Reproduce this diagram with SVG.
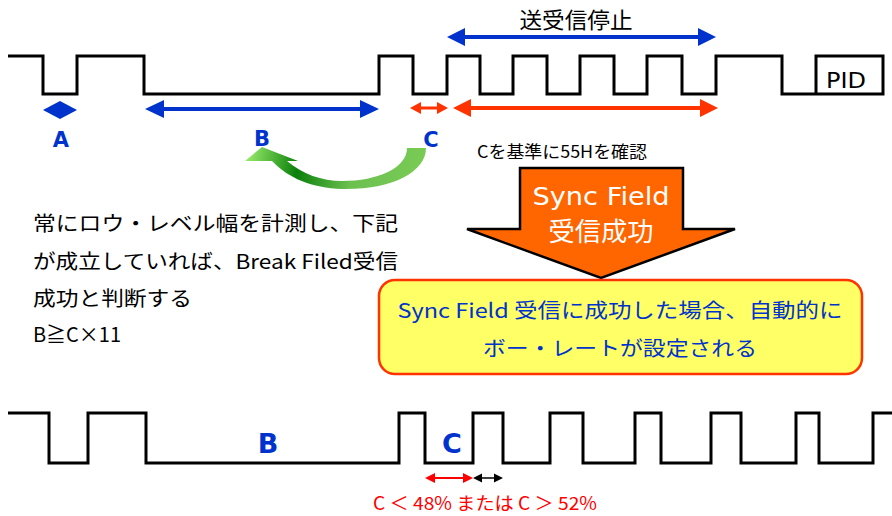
<svg xmlns="http://www.w3.org/2000/svg" width="892" height="516" viewBox="0 0 892 516">
<style>
.wave{fill:none;stroke:#000;stroke-width:3;stroke-linejoin:miter}
.jp{font-family:"Noto Sans CJK JP","Noto Sans",sans-serif;fill:#000}
.lbl{font-family:"DejaVu Sans",Verdana,sans-serif;font-weight:bold;fill:#0033CC}
.blue{fill:#0033CC}
.red{fill:#FF3300}
</style>
<defs>
<linearGradient id="gr" gradientUnits="userSpaceOnUse" x1="245" y1="150" x2="425" y2="185">
<stop offset="0" stop-color="#A0F070"/>
<stop offset="0.3" stop-color="#0A800A"/>
<stop offset="0.6" stop-color="#6CC050"/>
<stop offset="1" stop-color="#7ACC55"/>
</linearGradient>
</defs>
<rect width="892" height="516" fill="#fff"/>

<g id="top-wave">
<path class="wave" d="M8 56H43V94H77V56H144V94H379V56H413V94H447V56H480V94H513V56H547V94H580V56H614V94H647V56H682V94H716V56H782V94H883V56H816V94"/>
<text x="846" y="88" text-anchor="middle" font-family="DejaVu Sans,Verdana,sans-serif" font-size="21" fill="#000" textLength="40" lengthAdjust="spacingAndGlyphs">PID</text>
</g>

<g id="top-arrows">
<polygon class="blue" points="43,110 60,101 77,110 60,119"/>
<path class="blue" d="M145,109 L164,100 L164,107 L360,107 L360,100 L379,109 L360,118 L360,111 L164,111 L164,118 Z"/>
<path class="red" d="M410,108 L421,102 L421,106.5 L437,106.5 L437,102 L448,108 L437,114 L437,109.5 L421,109.5 L421,114 Z"/>
<path class="red" d="M453,108 L471,99 L471,106 L700,106 L700,99 L718,108 L700,117 L700,110 L471,110 L471,117 Z"/>
<path class="blue" d="M447,37 L465,28 L465,35 L698,35 L698,28 L716,37 L698,46 L698,39 L465,39 L465,46 Z"/>
<text class="jp" x="576" y="28" text-anchor="middle" font-size="22" textLength="113" lengthAdjust="spacingAndGlyphs">送受信停止</text>
<text class="lbl" x="61" y="147" text-anchor="middle" font-size="21">A</text>
<text class="lbl" x="262" y="146" text-anchor="middle" font-size="21">B</text>
<text class="lbl" x="431" y="147" text-anchor="middle" font-size="21">C</text>
</g>

<g id="green-arrow">
<path fill="url(#gr)" d="M426,148 C426,172 392,190 342,189 C312,188 288,178 272,161 L245,161 L262,147 L298,161 L287,161 C302,174 322,181 342,181 C378,181 407,168 407,148 Z"/>
</g>

<g id="note">
<text class="jp" x="477" y="158" font-size="17" textLength="170" lengthAdjust="spacingAndGlyphs">Cを基準に55Hを確認</text>
</g>

<g id="sync-arrow">
<polygon points="520,168 683,168 683,229 735,229 601,278 467,229 520,229" fill="#FF6600" stroke="#000" stroke-width="2.5" stroke-linejoin="miter"/>
<text x="601" y="205" text-anchor="middle" font-family="DejaVu Sans,Verdana,sans-serif" font-size="25" fill="#fff" textLength="137" lengthAdjust="spacingAndGlyphs">Sync Field</text>
<text class="jp" x="601" y="241" text-anchor="middle" font-size="26" style="fill:#fff" textLength="105" lengthAdjust="spacingAndGlyphs">受信成功</text>
</g>

<g id="result-box">
<rect x="379" y="280" width="483" height="94" rx="16" fill="#FFFF66" stroke="#FF3300" stroke-width="2.5"/>
<text class="jp" x="620" y="318" text-anchor="middle" font-size="20" style="fill:#0033CC" textLength="445" lengthAdjust="spacingAndGlyphs">Sync Field 受信に成功した場合、自動的に</text>
<text class="jp" x="620" y="356" text-anchor="middle" font-size="20" style="fill:#0033CC" textLength="274" lengthAdjust="spacingAndGlyphs">ボー・レートが設定される</text>
</g>

<g id="condition">
<text class="jp" x="33" y="231" font-size="20" textLength="365" lengthAdjust="spacingAndGlyphs">常にロウ・レベル幅を計測し、下記</text>
<text class="jp" x="33" y="269" font-size="20" textLength="365" lengthAdjust="spacingAndGlyphs">が成立していれば、Break Filed受信</text>
<text class="jp" x="33" y="306" font-size="20" textLength="159" lengthAdjust="spacingAndGlyphs">成功と判断する</text>
<text class="jp" x="33" y="342" font-size="20" textLength="88" lengthAdjust="spacingAndGlyphs">B≧C×11</text>
</g>

<g id="bottom-wave">
<path class="wave" d="M8 413H49V463H88V413H146V463H399V413H425V463H473V413H503V463H550V413H583V463H635V413H661V463H711V413H741V463H796V413H819V463H873V413H892"/>
<text class="lbl" x="268" y="453" text-anchor="middle" font-size="27">B</text>
<text class="lbl" x="452" y="453" text-anchor="middle" font-size="27">C</text>
</g>

<g id="bottom-arrows">
<path fill="#FF0000" d="M425,478 L435,473 L435,477 L463,477 L463,473 L473,478 L463,483 L463,479 L435,479 L435,483 Z"/>
<path fill="#000" d="M473,478 L482,473.5 L482,477.2 L494,477.2 L494,473.5 L503,478 L494,482.5 L494,478.8 L482,478.8 L482,482.5 Z"/>
<text class="jp" x="485" y="510" text-anchor="middle" font-size="18" style="fill:#FF0000" textLength="224" lengthAdjust="spacingAndGlyphs">C ＜ 48% または C ＞ 52%</text>
</g>
</svg>
